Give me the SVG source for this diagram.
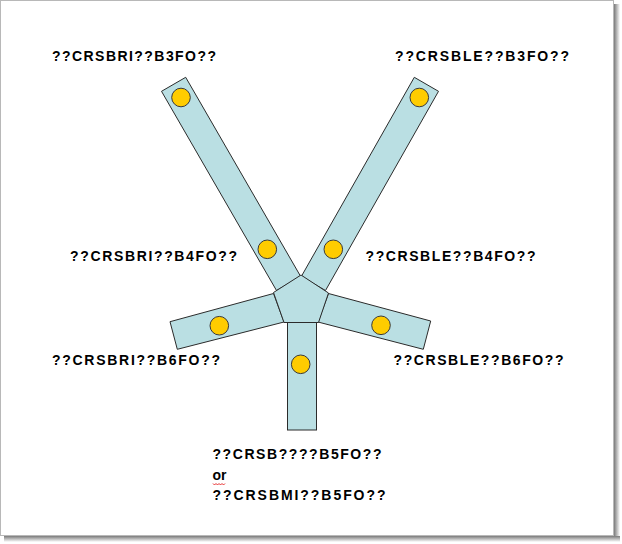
<svg xmlns="http://www.w3.org/2000/svg" width="622" height="544" viewBox="0 0 622 544">
<defs>
<style>
.strap{fill:#BADFE3;stroke:#2b2b2b;stroke-width:1}
.dot{fill:#FFCC00;stroke:#3a3a3a;stroke-width:1}
.lbl{font-family:"Liberation Sans",Arial,sans-serif;font-size:14px;font-weight:bold;fill:#000}
</style>
<linearGradient id="shR" x1="0" y1="0" x2="1" y2="0">
<stop offset="0" stop-color="#7a7a7a"/><stop offset="1" stop-color="#ffffff"/>
</linearGradient>
<linearGradient id="shB" x1="0" y1="0" x2="0" y2="1">
<stop offset="0" stop-color="#7a7a7a"/><stop offset="1" stop-color="#ffffff"/>
</linearGradient>
</defs>
<rect width="622" height="544" fill="#fff"/>
<g id="frame">
<rect x="614" y="4" width="6" height="537" fill="url(#shR)"/>
<rect x="4" y="536" width="616" height="6" fill="url(#shB)"/>
<rect x="0.5" y="0.5" width="613" height="535" fill="#fff" stroke="#b8b8b8" stroke-width="1"/>
</g>
<g id="connectors"/>
<g id="strap-upper-left">
<polygon class="strap" points="161.5,91.3 185.7,77.3 300.7,276.5 276.5,290.5"/>
<circle class="dot" cx="181" cy="97.5" r="9.3"/>
<circle class="dot" cx="267.3" cy="249.3" r="9.3"/>
</g>
<g id="strap-upper-right">
<polygon class="strap" points="438.5,91.3 414.3,77.3 301.3,276.5 325.5,290.5"/>
<circle class="dot" cx="419.3" cy="97.5" r="9.3"/>
<circle class="dot" cx="333.3" cy="249.3" r="9.3"/>
</g>
<g id="strap-lower-left">
<polygon class="strap" points="170,321.7 177.3,349.3 284,322 273.5,293.5"/>
<circle class="dot" cx="219.3" cy="325.7" r="9.3"/>
</g>
<g id="strap-lower-right">
<polygon class="strap" points="328.5,293.5 430.7,321 423.3,349.3 318,322"/>
<circle class="dot" cx="381" cy="325.3" r="9.3"/>
</g>
<g id="strap-bottom">
<rect class="strap" x="287.5" y="322" width="29" height="108"/>
<circle class="dot" cx="300.7" cy="364.3" r="9.3"/>
</g>
<g id="center-pentagon">
<polygon class="strap" points="301,275 328.5,293 318.5,322.5 284,322.5 273.5,292.5"/>
</g>
<g id="labels">
<text class="lbl" x="52" y="60.5" textLength="164" lengthAdjust="spacing">??CRSBRI??B3FO??</text>
<text class="lbl" x="395" y="60.5" textLength="174" lengthAdjust="spacing">??CRSBLE??B3FO??</text>
<text class="lbl" x="70" y="260.5" textLength="167" lengthAdjust="spacing">??CRSBRI??B4FO??</text>
<text class="lbl" x="365.5" y="260.5" textLength="170" lengthAdjust="spacing">??CRSBLE??B4FO??</text>
<text class="lbl" x="52" y="365" textLength="168" lengthAdjust="spacing">??CRSBRI??B6FO??</text>
<text class="lbl" x="393.5" y="365" textLength="170" lengthAdjust="spacing">??CRSBLE??B6FO??</text>
<text class="lbl" x="212.5" y="459" textLength="169" lengthAdjust="spacing">??CRSB????B5FO??</text>
<text class="lbl" x="212.5" y="480">or</text>
<path d="M213,483.5 l1.5,1.5 l1.5,-1.5 l1.5,1.5 l1.5,-1.5 l1.5,1.5 l1.5,-1.5 l1.5,1.5 l1.5,-1.5" fill="none" stroke="#e00000" stroke-width="0.8"/>
<text class="lbl" x="212.5" y="500" textLength="173" lengthAdjust="spacing">??CRSBMI??B5FO??</text>
</g>
</svg>
